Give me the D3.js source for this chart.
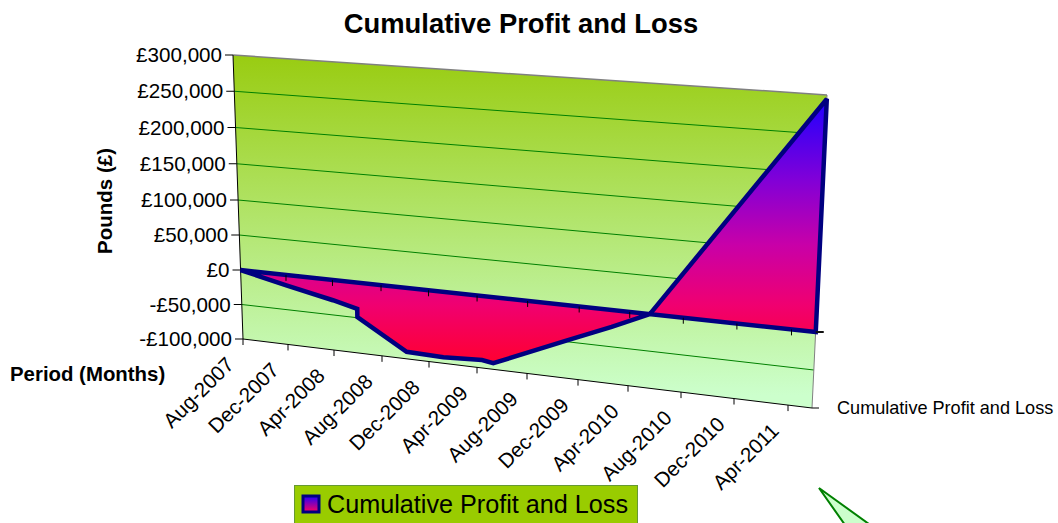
<!DOCTYPE html>
<html>
<head>
<meta charset="utf-8">
<script src="https://d3js.org/d3.v7.min.js"></script>
<style>
  html, body { margin: 0; padding: 0; background: #fff; overflow: hidden; }
  text { font-family: "Liberation Sans", Arial, sans-serif; fill: #000; }
</style>
</head>
<body>
<div id="chart"></div>
<script>
// Values
const yTicks = [-100000, -50000, 0, 50000, 100000, 150000, 200000, 250000, 300000];
const monthTicks = [0, 4, 8, 12, 16, 20, 24, 28, 32, 36, 40, 44];
const monthLabels = ["Aug-2007", "Dec-2007", "Apr-2008", "Aug-2008", "Dec-2008", "Apr-2009",
                     "Aug-2009", "Dec-2009", "Apr-2010", "Aug-2010", "Dec-2010", "Apr-2011"];
const lastMonth = 45.8;
const seriesName = "Cumulative Profit and Loss";

// months since Aug-2007 and the cumulative figure at each bend of the line
const seriesMonths = [0, 4, 8, 10, 10, 14.1, 17.2, 20.4, 21.3, 27.1, 30.6, 33.5, 45.8, 45.8];
const seriesValues = [0, -15000, -29000, -37500, -49000, -90000, -91500, -89000, -91500, -48000, -23000, 0, 295000, 0];

const W = 1058, H = 523;

const svg = d3.select("#chart").append("svg")
    .attr("width", W)
    .attr("height", H);

// The plot is a tilted wall, so each corner gets its own scale
const yLeft = d3.scaleLinear().domain([-100000, 0, 100000, 300000]).range([339, 270, 200, 55]);
const yRight = d3.scaleLinear().domain([-100000, 0, 300000]).range([408, 332, 95]);
const xLeft = d3.scaleLinear().domain([-100000, 300000]).range([243, 233]);
const xRight = d3.scaleLinear().domain([-100000, 300000]).range([812, 827]);
const along = d3.scaleLinear()
    .domain(monthTicks.concat([lastMonth]))
    .range([0, 45, 91, 139, 186, 234, 284, 335, 385, 438, 491, 545, 569].map(d => d / 569));

function project(month, value) {
    const u = along(month);
    return [
        xLeft(value) + u * (xRight(value) - xLeft(value)),
        yLeft(value) + u * (yRight(value) - yLeft(value))
    ];
}
const line = d3.line();

// Gradients
const defs = svg.append("defs");
function addGradient(id, stops, y1, y2) {
    const g = defs.append("linearGradient").attr("id", id)
        .attr("gradientUnits", y1 === undefined ? "objectBoundingBox" : "userSpaceOnUse")
        .attr("x1", 0).attr("x2", 0)
        .attr("y1", y1 === undefined ? 0 : y1)
        .attr("y2", y2 === undefined ? 1 : y2);
    stops.forEach(s => g.append("stop").attr("offset", s[0]).attr("stop-color", s[1]));
}
const seriesStops = [[0, "#2000ff"], [0.3, "#8000d8"], [0.55, "#c800a8"], [0.78, "#f00070"], [1, "#ff0030"]];
addGradient("wallFill", [[0, "#99cc11"], [1, "#ccffcc"]], 55, 395);
addGradient("seriesFill", seriesStops, 100, 363);
addGradient("legendFill", [[0, "#2000ff"], [1, "#ff0060"]]);

// Wall
const wallCorners = [
    project(0, 300000), project(lastMonth, 300000),
    project(lastMonth, -100000), project(0, -100000)
];
svg.append("path")
    .attr("d", line(wallCorners) + "Z")
    .attr("fill", "url(#wallFill)");

// Gridlines
svg.append("g").selectAll("path")
    .data(yTicks.filter(d => d > -100000 && d < 300000 && d !== 0))
    .join("path")
    .attr("d", d => line([project(0, d), project(lastMonth, d)]))
    .attr("stroke", "#008000")
    .attr("fill", "none");

// Wall edges
svg.append("path").attr("d", line([project(0, 300000), project(lastMonth, 300000)]))
    .attr("stroke", "#808080").attr("stroke-width", 1.5);
svg.append("path").attr("d", line([project(lastMonth, 300000), project(lastMonth, -100000)]))
    .attr("stroke", "#808080");
svg.append("path").attr("d", line([project(0, 300000), project(0, -100000)]))
    .attr("stroke", "#000");
svg.append("path").attr("d", line([project(0, -100000), project(lastMonth, -100000)]))
    .attr("stroke", "#000");

// Y axis ticks and labels
const yFormat = d => (d < 0 ? "-" : "") + "£" + d3.format(",")(Math.abs(d));
const yAxis = svg.append("g");
yAxis.selectAll("line")
    .data(yTicks)
    .join("line")
    .attr("x1", d => project(0, d)[0] - 8)
    .attr("x2", d => project(0, d)[0])
    .attr("y1", d => project(0, d)[1])
    .attr("y2", d => project(0, d)[1])
    .attr("stroke", "#000");
yAxis.selectAll("text")
    .data(yTicks)
    .join("text")
    .attr("x", d => project(0, d)[0] - 11)
    .attr("y", d => project(0, d)[1] + 7)
    .attr("text-anchor", "end")
    .attr("font-size", 20.6)
    .text(yFormat);

// Month ticks at the bottom of the wall and their labels
const xAxis = svg.append("g");
xAxis.selectAll("line")
    .data(monthTicks)
    .join("line")
    .attr("x1", d => project(d, -100000)[0])
    .attr("x2", d => project(d, -100000)[0])
    .attr("y1", d => project(d, -100000)[1])
    .attr("y2", d => project(d, -100000)[1] + 6)
    .attr("stroke", "#000");
svg.append("line")
    .attr("x1", project(lastMonth, -100000)[0]).attr("x2", project(lastMonth, -100000)[0] + 7)
    .attr("y1", project(lastMonth, -100000)[1]).attr("y2", project(lastMonth, -100000)[1])
    .attr("stroke", "#000");
xAxis.selectAll("text")
    .data(monthTicks)
    .join("text")
    .attr("text-anchor", "end")
    .attr("font-size", 20.6)
    .attr("transform", d => {
        const p = project(d, -100000);
        return `translate(${p[0] - 8},${p[1] + 27}) rotate(-45)`;
    })
    .text((d, i) => monthLabels[i]);

// Series area and its outline
const seriesPoints = seriesMonths.map((m, i) => project(m, seriesValues[i]));
svg.append("path")
    .attr("d", line(seriesPoints) + "Z")
    .attr("fill", "url(#seriesFill)")
    .attr("stroke", "#000080")
    .attr("stroke-width", 4.5)
    .attr("stroke-linejoin", "miter")
    .attr("stroke-miterlimit", 3);

// Ticks along the zero line
const zeroTicks = svg.append("g");
zeroTicks.selectAll("line")
    .data(monthTicks.slice(1))
    .join("line")
    .attr("x1", d => project(d, 0)[0])
    .attr("x2", d => project(d, 0)[0])
    .attr("y1", d => project(d, 0)[1])
    .attr("y2", d => project(d, 0)[1] + 6)
    .attr("stroke", "#000");
svg.append("line")
    .attr("x1", project(lastMonth, 0)[0]).attr("x2", project(lastMonth, 0)[0] + 8)
    .attr("y1", project(lastMonth, 0)[1]).attr("y2", project(lastMonth, 0)[1])
    .attr("stroke", "#111").attr("stroke-width", 2);

// Titles
svg.append("text").attr("x", 521).attr("y", 33).attr("text-anchor", "middle")
    .attr("font-size", 27.4).attr("font-weight", "bold").text("Cumulative Profit and Loss");
svg.append("text").attr("transform", "translate(112,201) rotate(-90)").attr("text-anchor", "middle")
    .attr("font-size", 20.5).attr("font-weight", "bold").text("Pounds (£)");
svg.append("text").attr("x", 10).attr("y", 381)
    .attr("font-size", 20.4).attr("font-weight", "bold").text("Period (Months)");
svg.append("text").attr("x", 837).attr("y", 414)
    .attr("font-size", 18.1).text(seriesName);

// Legend
const legend = svg.append("g");
legend.append("rect").attr("x", 294.5).attr("y", 485.5).attr("width", 343).attr("height", 40)
    .attr("fill", "#99cc00").attr("stroke", "#669933");
legend.append("rect").attr("x", 303).attr("y", 496).attr("width", 16).attr("height", 16)
    .attr("fill", "url(#legendFill)").attr("stroke", "#000080").attr("stroke-width", 3);
legend.append("text").attr("x", 327).attr("y", 513).attr("font-size", 25.2).text(seriesName);

// Callout shape cut by the bottom of the picture
svg.append("path")
    .attr("d", line([[819, 488], [880, 532], [850, 532]]) + "Z")
    .attr("fill", "#ccffcc")
    .attr("stroke", "#008000")
    .attr("stroke-width", 2);
</script>
</body>
</html>
